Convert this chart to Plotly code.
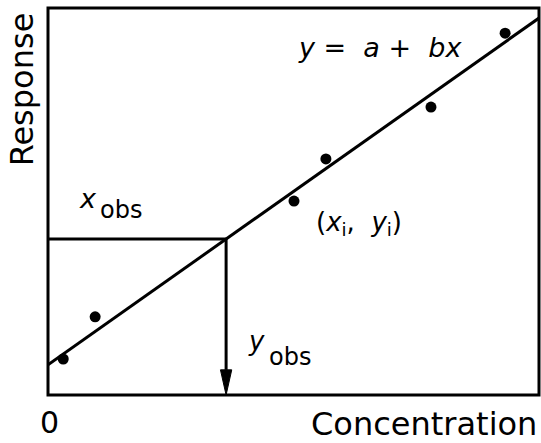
import plotly.graph_objects as go

# calibration points
conc = [0.31, 0.96, 5.01, 5.66, 7.80, 9.31]
resp = [0.93, 2.02, 5.01, 6.10, 7.44, 9.35]

# fitted line y = a + bx
a = 0.78
b = 0.896
line_x = [0, 10]
line_y = [a + b * v for v in line_x]

# observed response and the concentration it maps back to
y_obs = 4.03
x_obs = (y_obs - a) / b

FONT = "DejaVu Sans"

fig = go.Figure()

# regression line
fig.add_trace(go.Scatter(x=line_x, y=line_y, mode='lines',
                         line=dict(color='black', width=3), cliponaxis=True))

# horizontal read-across and vertical drop line
fig.add_trace(go.Scatter(x=[0, x_obs], y=[y_obs, y_obs], mode='lines',
                         line=dict(color='black', width=3)))
head_len = 0.65
head_w = 0.115
fig.add_trace(go.Scatter(x=[x_obs, x_obs], y=[y_obs, head_len], mode='lines',
                         line=dict(color='black', width=3)))

# data points
fig.add_trace(go.Scatter(x=conc, y=resp, mode='markers',
                         marker=dict(color='black', size=11)))

# arrow head at the bottom of the drop line
fig.add_shape(type='path',
              path=f"M {x_obs - head_w},{head_len} L {x_obs + head_w},{head_len} L {x_obs},0 Z",
              xref='x', yref='y', fillcolor='black', line=dict(color='black', width=1))

# frame
fig.add_shape(type='rect', xref='paper', yref='paper', x0=0, y0=0, x1=1, y1=1,
              line=dict(color='black', width=3))

def note(text, x, y, size, xanchor='center', xref='x', yref='y', angle=0):
    fig.add_annotation(text=text, x=x, y=y, xref=xref, yref=yref, showarrow=False,
                       xanchor=xanchor, yanchor='middle', textangle=angle,
                       font=dict(family=FONT, size=size, color='black'))

# equation
note("<i>y</i> = &nbsp;<i>a</i> + &nbsp;<i>bx</i>", 6.76, 8.99, 27)

# x_obs label
note("<i>x</i>", 1.04, 5.07, 27, xanchor='right')
note("obs", 1.02, 4.79, 24, xanchor='left')

# y_obs label
note("<i>y</i>", 4.47, 1.39, 26, xanchor='right')
note("obs", 4.47, 0.98, 24, xanchor='left')

# point label
note("(<i>x</i><sub>i</sub>, &nbsp;<i>y</i><sub>i</sub>)", 6.33, 4.42, 26)

# axis labels
note("Response", -0.054, 0.791, 32, xref='paper', yref='paper', angle=-90)
note("0", 0.003, -0.072, 30, xref='paper', yref='paper')
note("Concentration", 1.0, -0.075, 32, xanchor='right', xref='paper', yref='paper')

fig.update_xaxes(range=[0, 10], showgrid=False, zeroline=False, showticklabels=False,
                 ticks='', showline=False)
fig.update_yaxes(range=[0, 10], showgrid=False, zeroline=False, showticklabels=False,
                 ticks='', showline=False)

fig.update_layout(width=541, height=443, showlegend=False,
                  margin=dict(l=48, r=2, t=8, b=48),
                  plot_bgcolor='white', paper_bgcolor='white',
                  font=dict(family=FONT, color='black'))

fig.write_html("out.html", config=dict(displayModeBar=False),
               post_script="document.body.style.margin='0';")
